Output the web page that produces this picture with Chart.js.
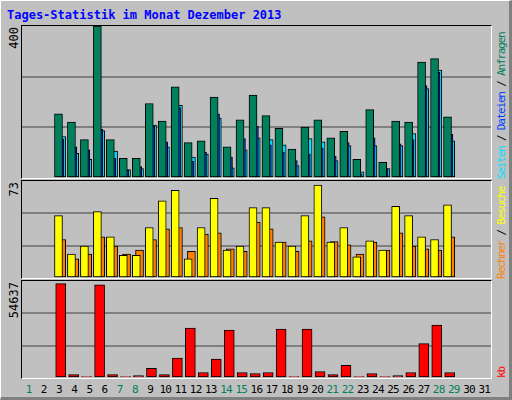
<!DOCTYPE html>
<html>
<head>
<meta charset="utf-8">
<script src="https://cdn.jsdelivr.net/npm/chart.js@4/dist/chart.umd.min.js"></script>
<style>
body { margin: 0; background: #c0c0c0; }
#frame { position: absolute; left: 0; top: 0; width: 508px; height: 396px; background: #c0c0c0;
  border-left: 1px solid #fff; border-top: 1px solid #fff; border-right: 3px solid #808080; border-bottom: 3px solid #808080;
  font-family: "DejaVu Sans Mono", monospace; font-size: 12px; }
#title { position: absolute; left: 6px; top: 7px; color: #0000ff; font-weight: bold; }
.panel { position: absolute; left: 20px; width: 469px; border-top: 1px solid #000; border-left: 1px solid #000;
  border-right: 1px solid #fff; border-bottom: 1px solid #fff; }
.panel canvas { position: absolute; left: 0; top: 0; }
.rot { position: absolute; transform-origin: left top; transform: rotate(-90deg); white-space: nowrap; }
.side { font-size: 11px; letter-spacing: -1.2px; }
#days { position: absolute; left: 20px; top: 382px; width: 471px; display: flex; font-size: 11px; letter-spacing: -0.8px; }
#days div { flex: 1; text-align: center; }
</style>
</head>
<body>
<div id="frame">
  <div id="title">Tages-Statistik im Monat Dezember 2013</div>
  <div class="panel" style="top:24px;height:152px"><canvas id="c1"></canvas></div>
  <div class="panel" style="top:179px;height:97px"><canvas id="c2"></canvas></div>
  <div class="panel" style="top:279px;height:97px"><canvas id="c3"></canvas></div>
  <div class="rot" style="left:6px;top:176px;width:150px;text-align:right">400</div>
  <div class="rot" style="left:6px;top:276px;width:95px;text-align:right">73</div>
  <div class="rot" style="left:6px;top:376px;width:95px;text-align:right">54637</div>
  <div class="rot side" style="left:494px;top:178px"><span style="color:#00e0ff">Seiten</span> / <span style="color:#0040ff">Dateien</span> / <span style="color:#00805c">Anfragen</span></div>
  <div class="rot side" style="left:494px;top:278px"><span style="color:#ff8000">Rechner</span> / <span style="color:#ffff00">Besuche</span></div>
  <div class="rot side" style="left:494px;top:377px"><span style="color:#ff0000">kb</span></div>
  <div id="days"></div>
</div>
<script>
const days = Array.from({ length: 31 }, (_, i) => String(i + 1));
const weekend = [1, 7, 8, 14, 15, 21, 22, 28, 29];

const hits  = [169,147,101,400,101,52,52,196,150,240,93,98,213,82,153,218,164,131,76,134,153,106,123,49,180,41,150,147,305,314,161];
const files = [102,82,74,128,52,20,30,136,95,185,44,68,169,55,104,136,87,68,46,63,79,57,93,11,106,25,90,101,243,278,115];
const pages = [109,65,49,125,71,22,25,139,82,191,55,63,158,27,74,106,101,87,33,104,95,46,85,16,85,25,85,117,235,284,98];

const visits = [47,18,24,50,31,17,17,38,58,66,14.5,38,60,21,24,53,53,27,24,47,70,27,38,16,28,21,54,47,31,29,55];
const hosts  = [29,14.5,18,31,24,18,21,29,37,38,20,33,34,22,20,42,37,27,20,28,46,27.5,25,18,27,21,34,24,22,21,31];

const kb = [54637,1994,800,54040,1994,800,1400,5583,1994,11565,28913,3190,10967,27717,3190,2592,3190,28315,800,28315,3789,1994,7378,800,2592,800,1400,3190,19940,30708,3190];

const daysEl = document.getElementById("days");
days.forEach(d => {
    let el = document.createElement("div");
    el.innerText = d;
    el.style.color = weekend.includes(+d) ? "#00805c" : "#000";
    daysEl.appendChild(el);
});

// bars sit on a linear day axis, shifted a little so they overlap like the original
const bar = (vals, color, shift, w) => ({
    data: vals.map((v, i) => ({ x: i + 1 + shift, y: v })),
    backgroundColor: color, borderColor: "#000", borderWidth: 1, borderSkipped: false,
    barThickness: w, grouped: false
});

function makeChart(id, h, max, datasets) {
    let cv = document.getElementById(id);
    cv.width = 469; cv.height = h;
    cv.style.width = "469px"; cv.style.height = h + "px";
    return new Chart(cv, {
        type: "bar",
        data: { datasets },
        options: {
            responsive: false,
            animation: false,
            devicePixelRatio: 1,
            layout: { padding: 0 },
            plugins: { legend: { display: false }, tooltip: { enabled: false } },
            scales: {
                x: { type: "linear", min: 0.5, max: 31.5, display: false },
                y: {
                    min: 0, max: max,
                    ticks: { display: false, stepSize: max / 3 },
                    border: { display: false },
                    grid: {
                        drawTicks: false,
                        color: c => (c.index === 0 || c.tick.value >= max - 1) ? "rgba(0,0,0,0)" : "#808080",
                        lineWidth: 2
                    }
                }
            }
        }
    });
}

makeChart("c1", 152, 400, [
    bar(hits, "#00805c", -0.27, 8),
    bar(files, "#0040ff", -0.16, 8),
    bar(pages, "#00e0ff", -0.02, 8)
]);

makeChart("c2", 97, 73, [
    bar(visits, "#ffff00", -0.27, 8),
    bar(hosts, "#ff8000", -0.02, 8)
]);

makeChart("c3", 97, 56200, [
    bar(kb, "#ff0000", -0.1, 10)
]);
</script>
</body>
</html>
